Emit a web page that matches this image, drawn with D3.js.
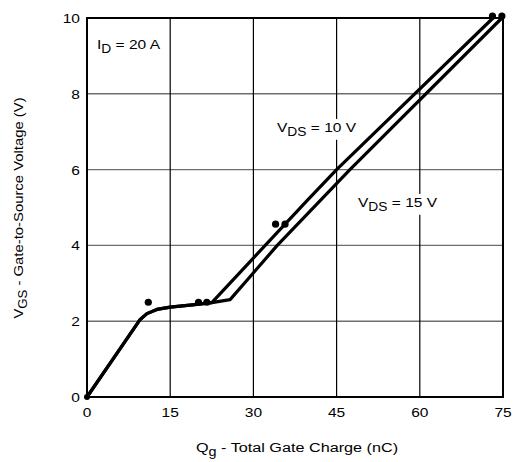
<!DOCTYPE html>
<html>
<head>
<meta charset="utf-8">
<script src="https://cdn.jsdelivr.net/npm/d3@7"></script>
<style>
  html, body { margin: 0; padding: 0; background: #fff; }
  svg { display: block; }
  text { font-family: "Liberation Sans", Arial, Helvetica, sans-serif; fill: #000; }
</style>
</head>
<body>
<svg id="chart" width="513" height="462"></svg>
<script>
// ---- data ----
const xTicks = [0, 15, 30, 45, 60, 75];
const yTicks = [0, 2, 4, 6, 8, 10];
const vds10 = [[0,0],[9.5,2.03],[10.8,2.2],[12.6,2.31],[15,2.37],[19,2.43],[22.5,2.49],[29.7,3.62],[39.8,5.2],[45,6.0],[73.2,10]];
const vds15 = [[0,0],[9.5,2.03],[10.8,2.2],[12.6,2.31],[15,2.37],[19,2.43],[22.5,2.49],[25.8,2.57],[34.3,4.0],[47.4,6.0],[74.8,10]];
const dots = [[11.05,2.5],[20.1,2.5],[21.6,2.5],[34.0,4.56],[35.7,4.56],[73.1,10.05],[74.8,10.05]];

const FS = 13.5, SUBFS = 12;
const svg = d3.select("#chart");
const x = d3.scaleLinear().domain([0, 75]).range([87, 503]);
const y = d3.scaleLinear().domain([0, 10]).range([397, 18]);

// gridlines
const g = svg.append("g");
g.selectAll("line.h").data(yTicks.filter(d => d > 0 && d < 10)).join("line")
  .attr("x1", x(0)).attr("x2", x(75))
  .attr("y1", d => y(d)).attr("y2", d => y(d))
  .attr("stroke", "#6e6e6e").attr("stroke-width", 1.4);
g.selectAll("line.v").data(xTicks.filter(d => d > 0 && d < 75)).join("line")
  .attr("y1", y(0)).attr("y2", y(10))
  .attr("x1", d => x(d)).attr("x2", d => x(d))
  .attr("stroke", "#000").attr("stroke-width", 1.2);

// stretched text helper: parts = [[text, isSub], ...]
function stext(px, py, parts, anchor, rotate, bg, sx) {
  sx = sx || 1.15;
  const grp = svg.append("g")
    .attr("transform", `translate(${px},${py})` + (rotate ? ` rotate(${rotate})` : "") + ` scale(${sx},1)`);
  const t = grp.append("text").attr("font-size", FS).attr("text-anchor", anchor || "start");
  let prevSub = false;
  parts.forEach(([s, sub]) => {
    const ts = t.append("tspan").text(s);
    if (sub) ts.attr("font-size", SUBFS);
    if (sub && !prevSub) ts.attr("dy", 4);
    if (!sub && prevSub) ts.attr("dy", -4);
    prevSub = sub;
  });
  if (bg) {
    const b = t.node().getBBox();
    grp.insert("rect", "text").attr("x", b.x - 3).attr("y", b.y - 1)
      .attr("width", b.width + 6).attr("height", b.height + 2).attr("fill", "#fff");
  }
  return grp;
}

// curves
const line = d3.line().x(d => x(d[0])).y(d => y(d[1]));
[vds15, vds10].forEach(data => {
  svg.append("path").datum(data).attr("d", line)
    .attr("fill", "none").attr("stroke", "#000").attr("stroke-width", 3.2).attr("stroke-linejoin", "round");
});

svg.selectAll("circle.dot").data(dots).join("circle")
  .attr("cx", d => x(d[0])).attr("cy", d => y(d[1])).attr("r", 3.6).attr("fill", "#000");
svg.append("circle").attr("cx", x(0)).attr("cy", y(0)).attr("r", 3).attr("fill", "#000");

// frame
svg.append("rect").attr("x", x(0)).attr("y", y(10))
  .attr("width", x(75) - x(0)).attr("height", y(0) - y(10))
  .attr("fill", "none").attr("stroke", "#000").attr("stroke-width", 2);

// annotation labels
stext(97, 49, [["I", false], ["D", true], [" = 20 A", false]]);
stext(277, 132, [["V", false], ["DS", true], [" = 10 V", false]], "start", 0, true);
stext(358, 207, [["V", false], ["DS", true], [" = 15 V", false]], "start", 0, true);

// tick labels
xTicks.forEach(v => stext(x(v), y(0) + 20, [[String(v), false]], "middle"));
yTicks.forEach(v => stext(x(0) - 7, y(v) + 5, [[String(v), false]], "end"));

// axis titles
stext(297, 452, [["Q", false], ["g", true], [" - Total Gate Charge (nC)", false]], "middle", 0, false, 1.2);
stext(23, 208, [["V", false], ["GS", true], [" - Gate-to-Source Voltage (V)", false]], "middle", -90, false, 1.1);
</script>
</body>
</html>
